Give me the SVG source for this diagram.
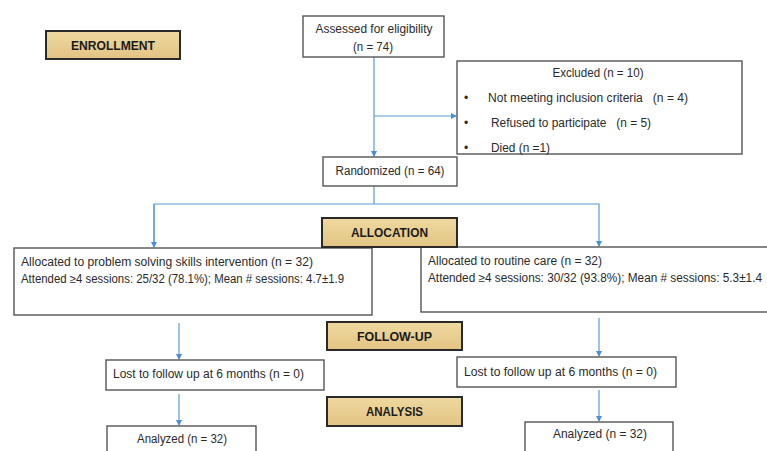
<svg xmlns="http://www.w3.org/2000/svg" width="767" height="451" viewBox="0 0 767 451">
<defs>
<marker id="ah" markerWidth="6" markerHeight="6" refX="5" refY="3" orient="auto" markerUnits="userSpaceOnUse">
<path d="M0,0 L6,3 L0,6 Z" fill="#4a8fd4"/>
</marker>
<linearGradient id="gold" x1="0" y1="0" x2="0" y2="1">
<stop offset="0" stop-color="#efd9a0"/>
<stop offset="1" stop-color="#e2c483"/>
</linearGradient>
<style>
.box{fill:#fff;stroke:#555;stroke-width:1.4}
.stage{fill:url(#gold);stroke:#2a2a2a;stroke-width:2}
.t{font-family:"Liberation Sans",Arial,sans-serif;font-size:12px;fill:#2a2a2a}
.c{text-anchor:middle}
.s{font-family:"Liberation Sans",Arial,sans-serif;font-size:12.5px;font-weight:bold;fill:#1a1a1a;text-anchor:middle}
.ln{stroke:#5b9bd5;stroke-width:1.2;fill:none}
</style>
</defs>
<rect width="767" height="451" fill="#fff"/>

<g id="connectors">
<line class="ln" x1="374" y1="57" x2="374" y2="156" marker-end="url(#ah)"/>
<line class="ln" x1="374" y1="116" x2="456" y2="116" marker-end="url(#ah)"/>
<line class="ln" x1="374" y1="186" x2="374" y2="204"/>
<polyline class="ln" points="154,246 154,204 599,204 599,246" marker-end="url(#ah)"/>
<line class="ln" x1="154" y1="204" x2="154" y2="247" marker-end="url(#ah)"/>
<line class="ln" x1="179" y1="323" x2="179" y2="359" marker-end="url(#ah)"/>
<line class="ln" x1="179" y1="394" x2="179" y2="425" marker-end="url(#ah)"/>
<line class="ln" x1="599" y1="318" x2="599" y2="356" marker-end="url(#ah)"/>
<line class="ln" x1="599" y1="390" x2="599" y2="421" marker-end="url(#ah)"/>
</g>

<g id="enrollment">
<rect class="stage" x="46" y="31" width="134" height="28"/>
<text class="s" x="113" y="50" textLength="84" lengthAdjust="spacingAndGlyphs">ENROLLMENT</text>
</g>

<g id="assessed">
<rect class="box" x="303" y="16" width="141" height="41"/>
<text class="t c" x="374" y="33" textLength="117" lengthAdjust="spacingAndGlyphs">Assessed for eligibility</text>
<text class="t c" x="373" y="51" textLength="40" lengthAdjust="spacingAndGlyphs">(n = 74)</text>
</g>

<g id="excluded">
<rect class="box" x="457" y="61" width="285" height="93"/>
<text class="t c" x="598" y="77" textLength="91" lengthAdjust="spacingAndGlyphs">Excluded (n = 10)</text>
<text class="t" x="464" y="102">•</text>
<text class="t" x="488" y="102" textLength="200" lengthAdjust="spacingAndGlyphs" xml:space="preserve">Not meeting inclusion criteria   (n = 4)</text>
<text class="t" x="464" y="127">•</text>
<text class="t" x="491" y="127" textLength="160" lengthAdjust="spacingAndGlyphs" xml:space="preserve">Refused to participate   (n = 5)</text>
<text class="t" x="464" y="152">•</text>
<text class="t" x="491" y="152" textLength="59" lengthAdjust="spacingAndGlyphs">Died (n =1)</text>
</g>

<g id="randomized">
<rect class="box" x="323" y="157" width="134" height="29"/>
<text class="t c" x="390" y="175" textLength="109" lengthAdjust="spacingAndGlyphs">Randomized (n = 64)</text>
</g>

<g id="alloc-left">
<rect class="box" x="14" y="248" width="358" height="67"/>
<text class="t" x="21" y="266" textLength="292" lengthAdjust="spacingAndGlyphs">Allocated to problem solving skills intervention (n = 32)</text>
<text class="t" x="21" y="283" textLength="323" lengthAdjust="spacingAndGlyphs">Attended ≥4 sessions: 25/32 (78.1%); Mean # sessions: 4.7±1.9</text>
</g>

<g id="alloc-right">
<rect class="box" x="421" y="247" width="360" height="65"/>
<text class="t" x="428" y="265" textLength="174" lengthAdjust="spacingAndGlyphs">Allocated to routine care (n = 32)</text>
<text class="t" x="428" y="282" textLength="334" lengthAdjust="spacingAndGlyphs">Attended ≥4 sessions: 30/32 (93.8%); Mean # sessions: 5.3±1.4</text>
</g>

<g id="allocation">
<rect class="stage" x="322" y="218" width="135" height="29"/>
<text class="s" x="389.5" y="237" textLength="77" lengthAdjust="spacingAndGlyphs">ALLOCATION</text>
</g>

<g id="followup">
<rect class="stage" x="327" y="322" width="135" height="28"/>
<text class="s" x="394.5" y="341" textLength="75" lengthAdjust="spacingAndGlyphs">FOLLOW-UP</text>
</g>

<g id="analysis">
<rect class="stage" x="327" y="397" width="135" height="29"/>
<text class="s" x="394.5" y="416" textLength="57" lengthAdjust="spacingAndGlyphs">ANALYSIS</text>
</g>

<g id="lost-left">
<rect class="box" x="106" y="360" width="218" height="30"/>
<text class="t" x="113" y="378" textLength="191" lengthAdjust="spacingAndGlyphs">Lost to follow up at 6 months (n = 0)</text>
</g>

<g id="lost-right">
<rect class="box" x="457" y="357" width="219" height="30"/>
<text class="t" x="464" y="376" textLength="193" lengthAdjust="spacingAndGlyphs">Lost to follow up at 6 months (n = 0)</text>
</g>

<g id="analyzed-left">
<rect class="box" x="107" y="426" width="149" height="40"/>
<text class="t c" x="182" y="443" textLength="90" lengthAdjust="spacingAndGlyphs">Analyzed (n = 32)</text>
</g>

<g id="analyzed-right">
<rect class="box" x="525" y="422" width="148" height="40"/>
<text class="t c" x="600" y="438" textLength="94" lengthAdjust="spacingAndGlyphs">Analyzed (n = 32)</text>
</g>
</svg>
